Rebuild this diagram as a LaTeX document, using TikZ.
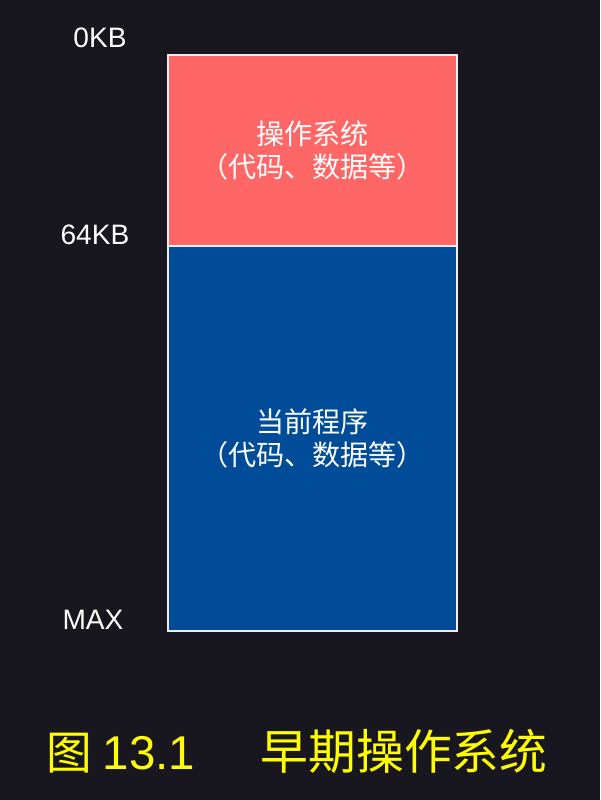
\documentclass[tikz,border=0pt]{standalone}
\usepackage{fontspec}
\setmainfont{Liberation Sans}
\newfontfamily\cjk{Noto Sans CJK SC}
\definecolor{bgdark}{HTML}{18161E}
\definecolor{osred}{HTML}{FF6666}
\definecolor{progblue}{HTML}{004C99}
\definecolor{memline}{HTML}{EEEEEE}
\definecolor{titleyellow}{HTML}{FFFF00}
\tikzset{
    memblock/.style={draw=memline, line width=1.1pt, inner sep=0pt, minimum width=5.78cm,
        text=white, align=center, font=\cjk\fontsize{16}{19.3}\selectfont},
    addrlabel/.style={text=white, anchor=base, font=\fontsize{16}{19}\selectfont},
    titletext/.style={text=titleyellow, anchor=base}
}
\begin{document}
\begin{tikzpicture}[x=0.02cm, y=-0.02cm]
    % background
    \fill[bgdark] (0,0) rectangle (600,800);
    % memory blocks
    \node[memblock, fill=osred, minimum height=3.82cm] (osblock) at (312.5,150.5)
        {操作系统\\（代码、数据等）};
    \node[memblock, fill=progblue, minimum height=7.7cm] (progblock) at (312.5,438.5)
        {当前程序\\（代码、数据等）};
    % address labels
    \node[addrlabel] (addrzero) at (100,48) {0KB};
    \node[addrlabel] (addrsixtyfour) at (95,245) {64KB};
    \node[addrlabel] (addrmax) at (93,629) {MAX};
    % caption
    \node[titletext, font=\cjk\fontsize{26}{30}\selectfont] (figchar) at (69,769) {图};
    \node[titletext, font=\fontsize{27}{30}\selectfont] (fignum) at (149,769) {13.1};
    \node[titletext, font=\cjk\fontsize{27.2}{30}\selectfont] (figtitle) at (404,769) {早期操作系统};
\end{tikzpicture}
\end{document}
